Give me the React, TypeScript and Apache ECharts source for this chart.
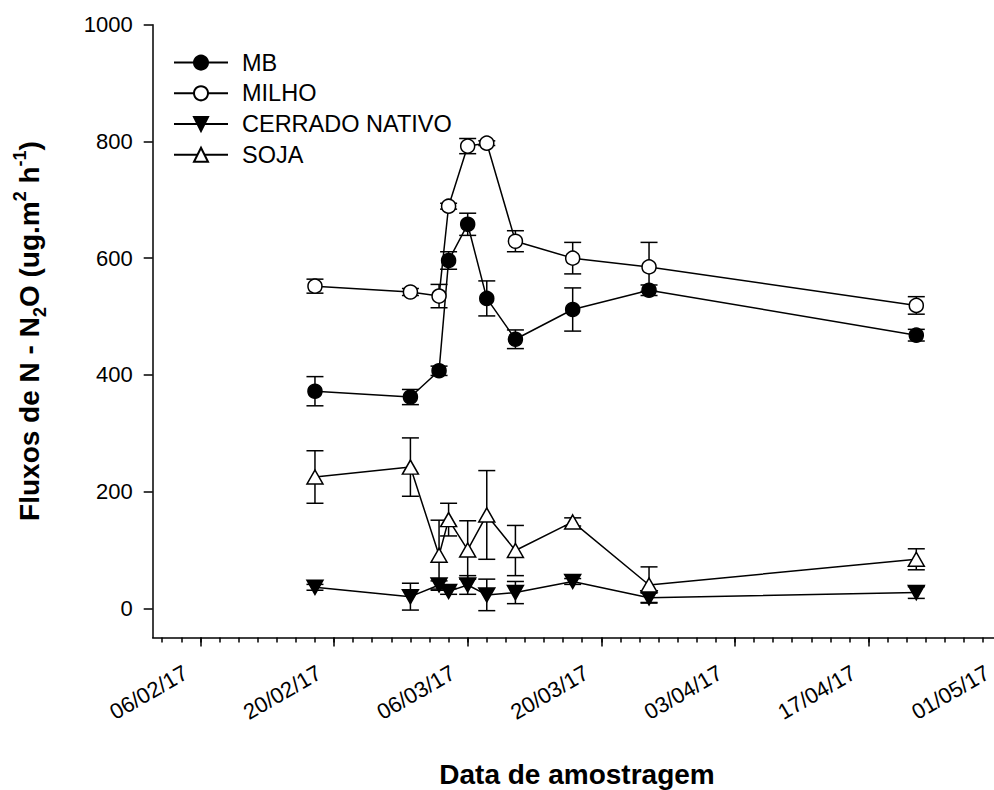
import React, { useEffect, useRef } from 'react';
import * as echarts from 'echarts';

// ---- data ----
const sampleDates = [
  '2017-02-18', '2017-02-28', '2017-03-03', '2017-03-04', '2017-03-06',
  '2017-03-08', '2017-03-11', '2017-03-17', '2017-03-25', '2017-04-22',
];
const mbValues = [372, 362, 407, 596, 658, 531, 461, 512, 545, 468];
const mbErr = [25, 13, 8, 15, 19, 30, 16, 37, 9, 10];
const milhoValues = [552, 542, 535, 689, 792, 797, 629, 600, 585, 519];
const milhoErr = [12, 6, 20, 5, 13, 4, 18, 27, 42, 15];
const cerradoValues = [36, 20, 40, 29, 40, 23, 27, 46, 18, 27];
const cerradoErr = [5, 23, 7, 5, 16, 27, 19, 5, 8, 10];
const sojaValues = [225, 242, 91, 152, 100, 160, 99, 148, 40, 84];
const sojaErr = [45, 50, 60, 28, 50, 76, 43, 7, 31, 18];

const xMajorTicks = ['2017-02-06', '2017-02-20', '2017-03-06', '2017-03-20', '2017-04-03', '2017-04-17', '2017-05-01'];
const xAxisMin = '2017-02-01';
const xAxisMax = '2017-05-01';
const yTicks = [0, 200, 400, 600, 800, 1000];
const yAxisMin = -50;
const yAxisMax = 1000;

const FONT = '"Liberation Sans", Arial, Helvetica, sans-serif';
const DAY = 86400000;

const toMs = (s: string) => {
  const [y, m, d] = s.split('-').map(Number);
  return Date.UTC(y, m - 1, d);
};
const fmt = (v: number) => {
  const d = new Date(v);
  const p = (n: number) => String(n).padStart(2, '0');
  return `${p(d.getUTCDate())}/${p(d.getUTCMonth() + 1)}/${String(d.getUTCFullYear()).slice(2)}`;
};

const minorTicks: number[] = [];
for (let t = toMs(xAxisMin) + DAY; t < toMs(xAxisMax); t += 2 * DAY) minorTicks.push(t);

const BLACK = '#000';
const LW = 1.5;

export default function App() {
  const ref = useRef<HTMLDivElement>(null);
  useEffect(() => {
    if (!ref.current) return;
    const chart = echarts.init(ref.current, null, { renderer: 'svg' });
    const xs = sampleDates.map(toMs);
    const lineData = (vals: number[]) => xs.map((x, i) => [x, vals[i]]);
    const errData = (vals: number[], err: number[]) => xs.map((x, i) => [x, vals[i] - err[i], vals[i] + err[i]]);

    const errSeries = (name: string, vals: number[], err: number[]) => ({
      type: 'custom',
      name,
      z: 1,
      data: errData(vals, err),
      encode: { x: 0, y: [1, 2] },
      renderItem: (_p: any, api: any) => {
        const x = api.value(0);
        const top = api.coord([x, api.value(2)]);
        const bot = api.coord([x, api.value(1)]);
        const hw = 8.5;
        const st = { stroke: BLACK, lineWidth: LW, fill: null };
        return {
          type: 'group',
          children: [
            { type: 'line', shape: { x1: top[0], y1: top[1], x2: bot[0], y2: bot[1] }, style: st },
            { type: 'line', shape: { x1: top[0] - hw, y1: top[1], x2: top[0] + hw, y2: top[1] }, style: st },
            { type: 'line', shape: { x1: bot[0] - hw, y1: bot[1], x2: bot[0] + hw, y2: bot[1] }, style: st },
          ],
        };
      },
    });

    const lineSeries = (name: string, vals: number[], symbol: string, size: any, fill: string) => ({
      type: 'line',
      name,
      z: 3,
      data: lineData(vals),
      symbol,
      symbolSize: size,
      showAllSymbol: true,
      lineStyle: { color: BLACK, width: LW },
      itemStyle: { color: fill, borderColor: BLACK, borderWidth: LW },
      emphasis: { disabled: true },
    });

    const triUp = 'path://M8,0 L16,14 L0,14 Z';
    const triDown = 'path://M0,0 L16,0 L8,14 Z';

    const option: any = {
      animation: false,
      backgroundColor: '#fff',
      grid: { left: 152.7, top: 24.7, width: 849.5, height: 612.8, containLabel: false, outerBoundsMode: 'none' },
      legend: {
        orient: 'vertical',
        left: 173,
        top: 50.6,
        padding: 0,
        itemWidth: 54,
        itemHeight: 17.5,
        itemGap: 6.7,
        selectedMode: false,
        data: ['MB', 'MILHO', 'CERRADO NATIVO', 'SOJA'],
        textStyle: { fontFamily: FONT, fontSize: 23.5, color: BLACK, lineHeight: 24, padding: [0, 0, 0, 9] },
      },
      xAxis: [
        {
          type: 'value',
          min: toMs(xAxisMin),
          max: toMs(xAxisMax),
          position: 'bottom',
          axisLine: { show: true, onZero: false, lineStyle: { color: BLACK, width: LW } },
          axisTick: { show: true, length: 9, lineStyle: { color: BLACK, width: LW }, customValues: xMajorTicks.map(toMs) },
          axisLabel: {
            show: true,
            customValues: xMajorTicks.map(toMs),
            formatter: (v: number) => fmt(v),
            rotate: 30,
            margin: 25,
            padding: [0, 17, 0, 0],
            fontFamily: FONT,
            fontSize: 22,
            color: BLACK,
          },
          splitLine: { show: false },
        },
        {
          type: 'value',
          min: toMs(xAxisMin),
          max: toMs(xAxisMax),
          position: 'bottom',
          axisLine: { show: false, onZero: false },
          axisTick: { show: true, length: 5, lineStyle: { color: BLACK, width: LW }, customValues: minorTicks },
          axisLabel: { show: false },
          splitLine: { show: false },
        },
      ],
      yAxis: {
        type: 'value',
        min: yAxisMin,
        max: yAxisMax,
        axisLine: { show: true, onZero: false, lineStyle: { color: BLACK, width: LW } },
        axisTick: { show: true, length: 9, lineStyle: { color: BLACK, width: LW }, customValues: yTicks },
        axisLabel: {
          show: true,
          customValues: yTicks,
          formatter: (v: number) => String(v),
          margin: 20,
          fontFamily: FONT,
          fontSize: 22,
          color: BLACK,
        },
        splitLine: { show: false },
      },
      graphic: [
        {
          type: 'text',
          x: 29.5,
          y: 331,
          rotation: Math.PI / 2,
          style: {
            text: '{b|Fluxos de N - N}{sub|2}{b|O (ug.m}{sup|2}{b| h}{sup|-1}{b|)}',
            align: 'center',
            verticalAlign: 'middle',
            fill: BLACK,
            rich: {
              b: { fontFamily: FONT, fontSize: 28, fontWeight: 'bold', lineHeight: 38, fill: BLACK },
              sub: { fontFamily: FONT, fontSize: 18, fontWeight: 'bold', lineHeight: 18, verticalAlign: 'bottom', fill: BLACK },
              sup: { fontFamily: FONT, fontSize: 18, fontWeight: 'bold', lineHeight: 18, verticalAlign: 'top', fill: BLACK },
            },
          },
        },
        {
          type: 'text',
          x: 577,
          y: 774,
          style: {
            text: 'Data de amostragem',
            fontFamily: FONT,
            fontSize: 28,
            fontWeight: 'bold',
            fill: BLACK,
            align: 'center',
            verticalAlign: 'middle',
          },
        },
      ],
      series: [
        errSeries('MB-err', mbValues, mbErr),
        errSeries('MILHO-err', milhoValues, milhoErr),
        errSeries('CERRADO-err', cerradoValues, cerradoErr),
        errSeries('SOJA-err', sojaValues, sojaErr),
        lineSeries('MB', mbValues, 'circle', 14, BLACK),
        lineSeries('MILHO', milhoValues, 'circle', 14, '#fff'),
        lineSeries('CERRADO NATIVO', cerradoValues, triDown, [16, 14], BLACK),
        lineSeries('SOJA', sojaValues, triUp, [16, 14], '#fff'),
      ],
    };
    chart.setOption(option);
    return () => chart.dispose();
  }, []);

  return (
    <div style={{ position: 'fixed', left: 0, top: 0, width: 994, height: 790, overflow: 'hidden', background: '#fff' }}>
      <div ref={ref} style={{ width: 1012, height: 790 }} />
    </div>
  );
}
